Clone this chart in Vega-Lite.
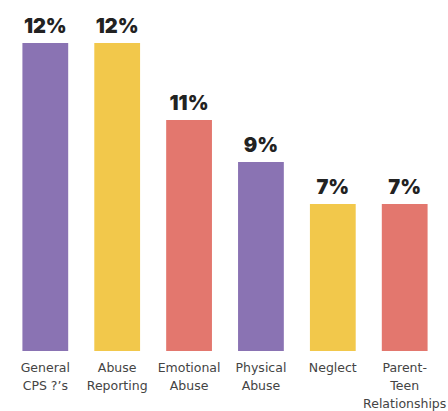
{
  "$schema": "https://vega.github.io/schema/vega-lite/v6.json",
  "width": 446,
  "height": 351,
  "autosize": {"type": "none"},
  "padding": {"left": 2, "top": 0, "right": 0, "bottom": 60},
  "background": "white",
  "config": {"view": {"stroke": null}},
  "data": {
    "values": [
      {"topic": "General|CPS ?’s", "height": 14.67, "label": "12%", "color": "purple"},
      {"topic": "Abuse|Reporting", "height": 14.67, "label": "12%", "color": "yellow"},
      {"topic": "Emotional|Abuse", "height": 11, "label": "11%", "color": "red"},
      {"topic": "Physical|Abuse", "height": 9, "label": "9%", "color": "purple2"},
      {"topic": "Neglect", "height": 7, "label": "7%", "color": "yellow2"},
      {"topic": "Parent-|Teen|Relationships", "height": 7, "label": "7%", "color": "red2"}
    ]
  },
  "encoding": {
    "x": {
      "field": "topic",
      "type": "nominal",
      "sort": null,
      "scale": {"paddingInner": 0.363, "paddingOuter": 0.284},
      "axis": {
        "title": null,
        "domain": false,
        "ticks": false,
        "labelAngle": 0,
        "labelExpr": "split(datum.value, '|')",
        "labelFont": "DejaVu Sans",
        "labelFontSize": 12.5,
        "labelColor": "#444444",
        "labelLineHeight": 18,
        "labelPadding": 10,
        "labelBaseline": "top",
        "labelOverlap": false,
        "labelBound": false,
        "labelLimit": 200
      }
    },
    "y": {
      "field": "height",
      "type": "quantitative",
      "scale": {"domain": [0, 16.714], "nice": false, "zero": true},
      "axis": null
    }
  },
  "layer": [
    {
      "mark": {"type": "bar"},
      "encoding": {
        "color": {
          "field": "color",
          "type": "nominal",
          "scale": {
            "domain": ["purple", "yellow", "red", "purple2", "yellow2", "red2"],
            "range": ["#8a73b3", "#f2c84b", "#e3776e", "#8a73b3", "#f2c84b", "#e3776e"]
          },
          "legend": null
        }
      }
    },
    {
      "mark": {
        "type": "text",
        "baseline": "alphabetic",
        "align": "center",
        "dy": -10,
        "font": "Inter",
        "fontWeight": 900,
        "fontSize": 20,
        "color": "#222222"
      },
      "encoding": {"text": {"field": "label"}}
    }
  ]
}
